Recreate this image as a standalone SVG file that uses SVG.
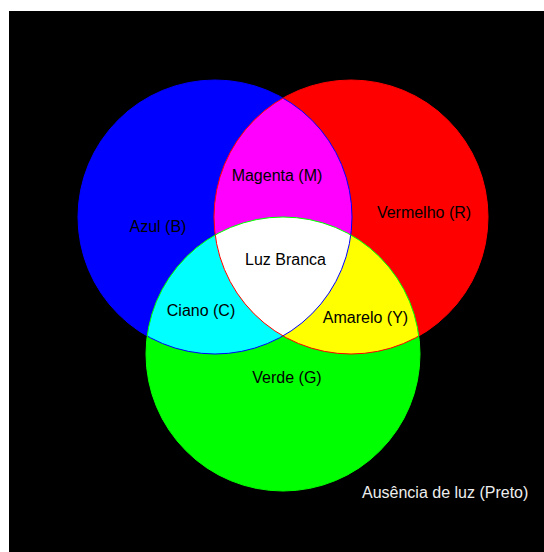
<svg xmlns="http://www.w3.org/2000/svg" width="544" height="552" viewBox="0 0 544 552">
  <style>
    .lbl { font-family: "Liberation Sans", Arial, sans-serif; font-size: 16px; fill: #000; text-anchor: middle; }
    .note { font-family: "Liberation Sans", Arial, sans-serif; font-size: 16px; fill: #eeeeee; }
    .edge { fill: none; stroke-width: 1; }
  </style>
  <defs>
    <clipPath id="cB"><circle cx="215" cy="217" r="137"/></clipPath>
    <clipPath id="cR"><circle cx="351" cy="217" r="137"/></clipPath>
    <clipPath id="cG"><circle cx="283" cy="354" r="137"/></clipPath>
  </defs>
  <rect x="0" y="0" width="544" height="552" fill="#ffffff"/>
  <rect x="9" y="11" width="535" height="541" fill="#000000"/>

  <g id="blue">
    <circle cx="215" cy="217" r="137" fill="#0000ff"/>
  </g>
  <g id="red">
    <circle cx="351" cy="217" r="137" fill="#ff0000"/>
  </g>
  <g id="green">
    <circle cx="283" cy="354" r="137" fill="#00ff00"/>
  </g>
  <g id="magenta" clip-path="url(#cB)">
    <circle cx="351" cy="217" r="137" fill="#ff00ff"/>
  </g>
  <g id="cyan" clip-path="url(#cB)">
    <circle cx="283" cy="354" r="137" fill="#00ffff"/>
  </g>
  <g id="yellow" clip-path="url(#cR)">
    <circle cx="283" cy="354" r="137" fill="#ffff00"/>
  </g>
  <g id="white" clip-path="url(#cB)">
    <g clip-path="url(#cR)">
      <circle cx="283" cy="354" r="137" fill="#ffffff"/>
    </g>
  </g>

  <g id="connectors">
    <circle class="edge" cx="215" cy="217" r="137" stroke="#0000ff"/>
    <circle class="edge" cx="351" cy="217" r="137" stroke="#ff0000"/>
    <circle class="edge" cx="283" cy="354" r="137" stroke="#00ff00"/>
  </g>

  <g id="labels">
    <text class="lbl" x="158" y="232">Azul (B)</text>
    <text class="lbl" x="277" y="181">Magenta (M)</text>
    <text class="lbl" x="424" y="218">Vermelho (R)</text>
    <text class="lbl" x="285.5" y="265">Luz Branca</text>
    <text class="lbl" x="201" y="316">Ciano (C)</text>
    <text class="lbl" x="365.5" y="323">Amarelo (Y)</text>
    <text class="lbl" x="287" y="383">Verde (G)</text>
    <text class="note" x="362" y="498">Ausência de luz (Preto)</text>
  </g>
</svg>
